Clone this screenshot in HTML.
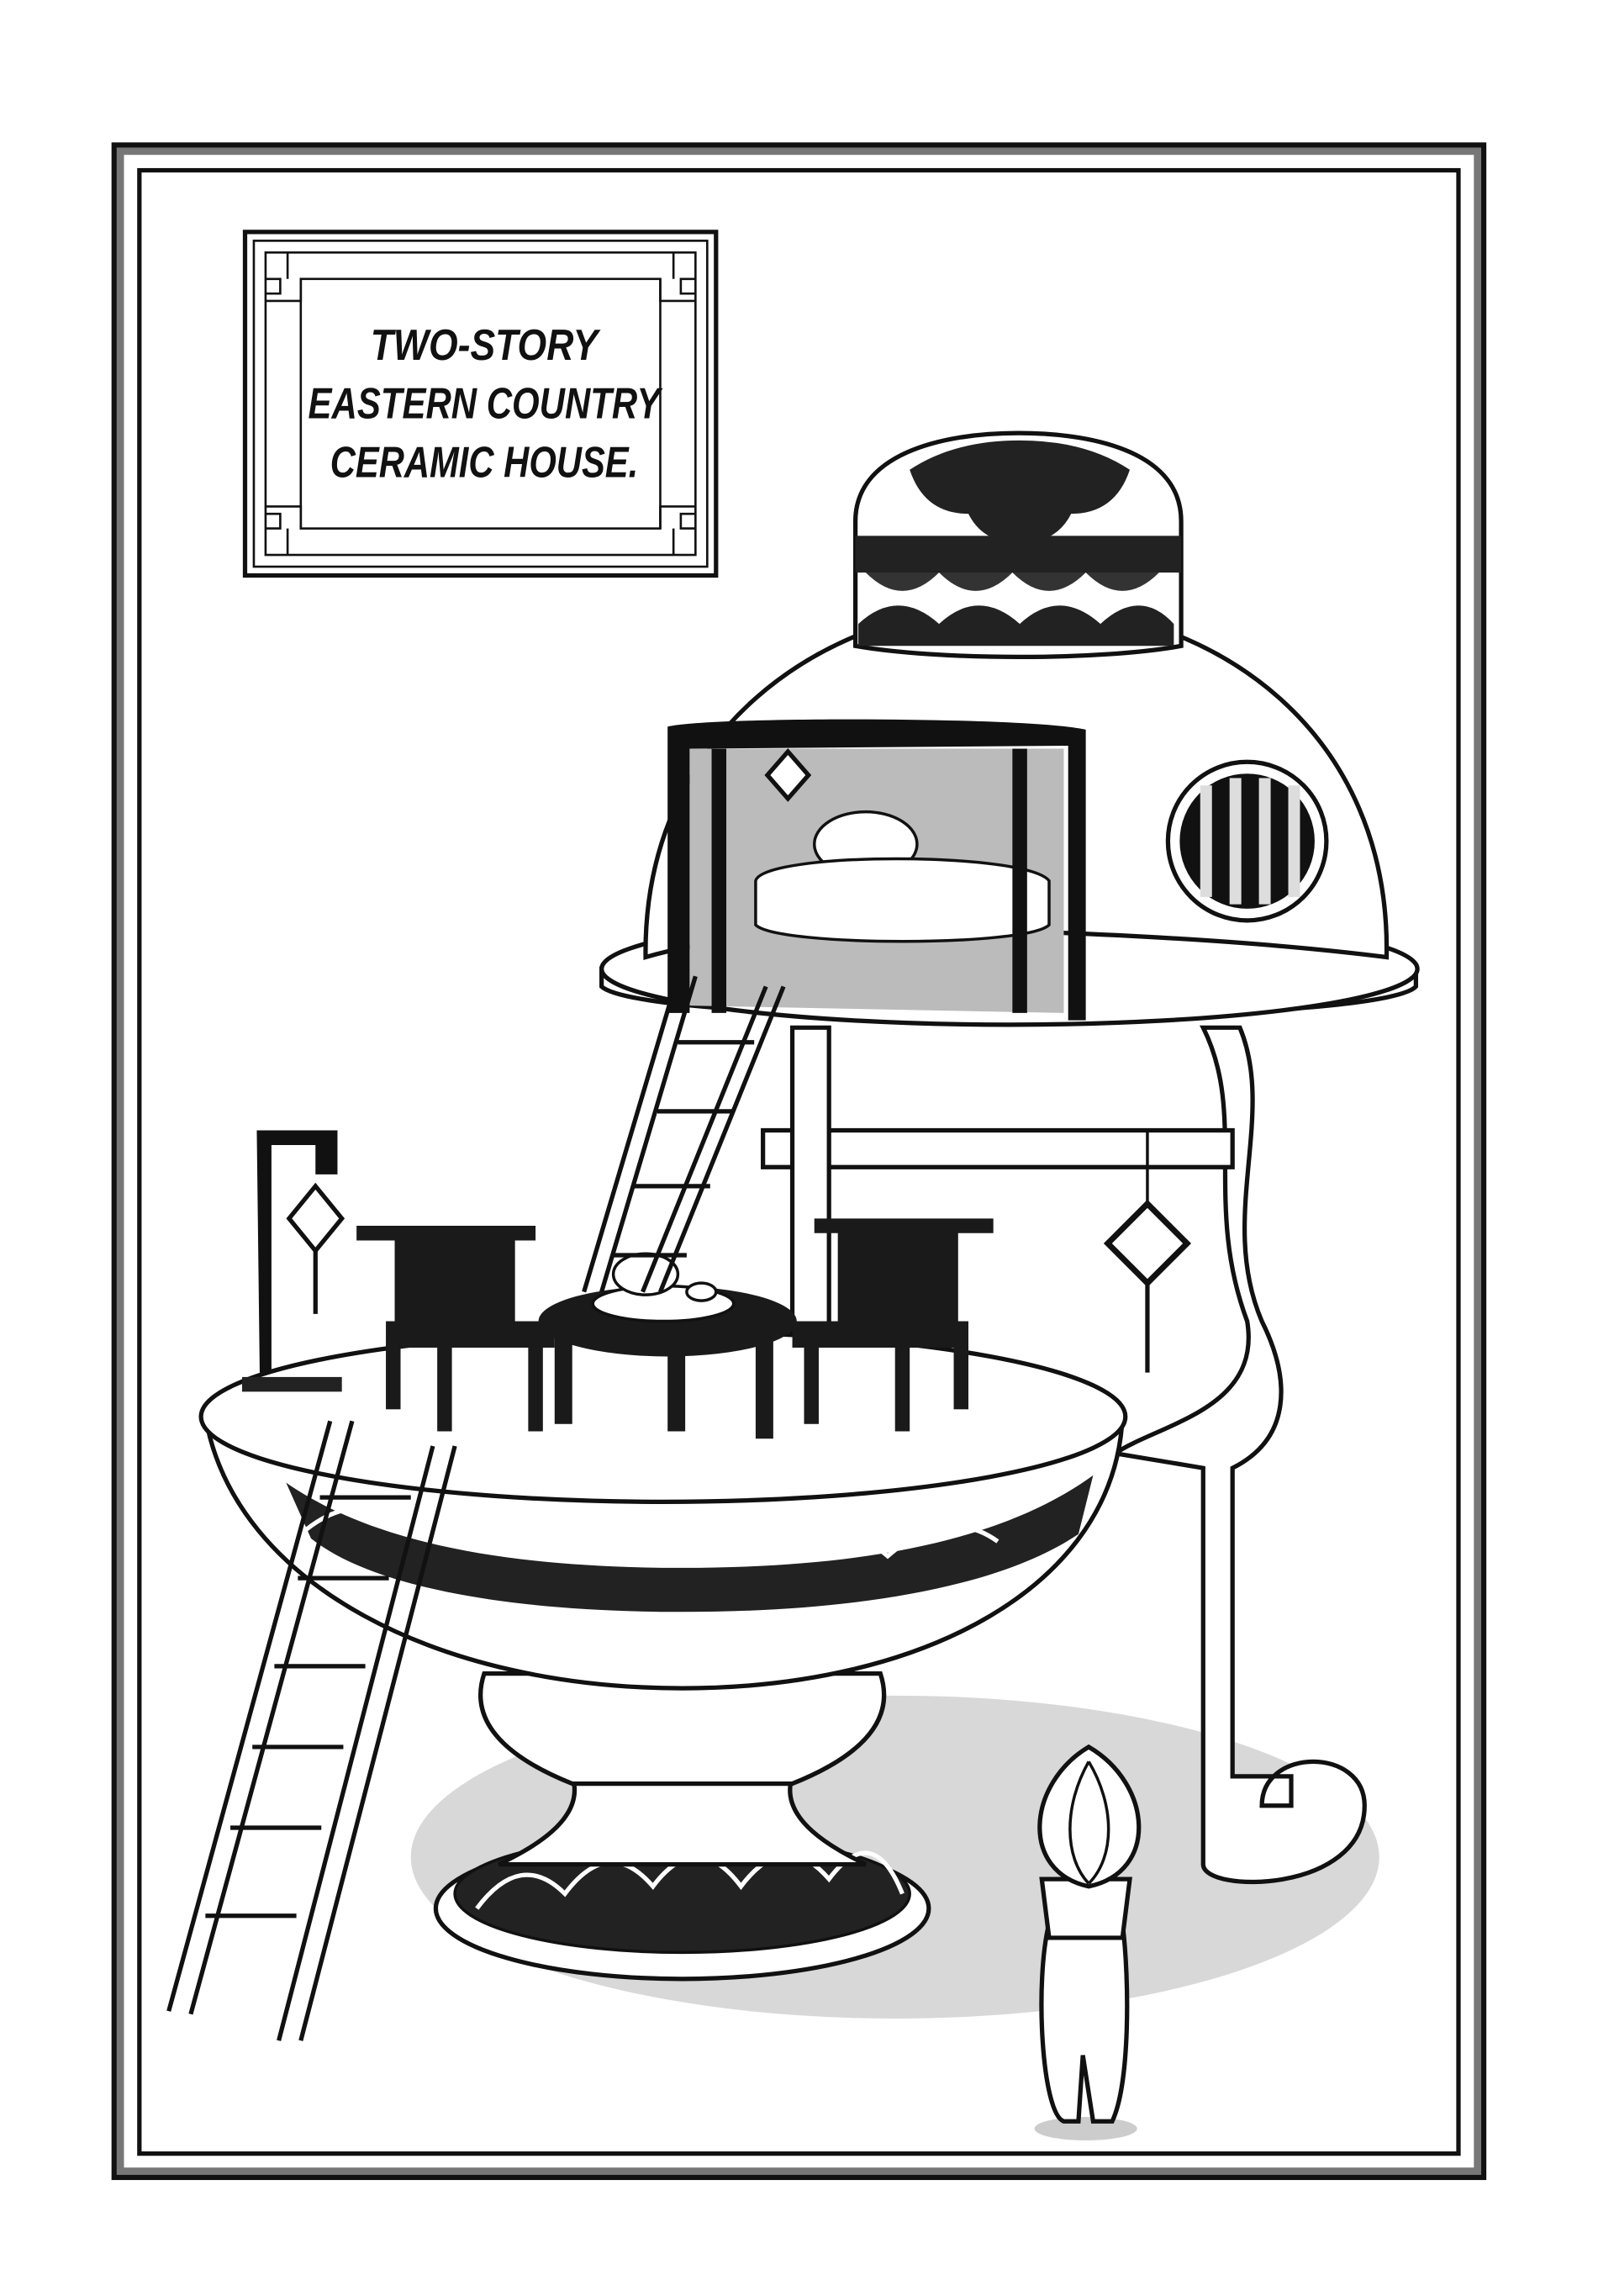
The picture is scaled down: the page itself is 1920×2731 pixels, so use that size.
<!DOCTYPE html>
<html><head><meta charset="utf-8"><style>
html,body{margin:0;padding:0;background:#fff}
svg{display:block}
text{font-family:"Liberation Sans",sans-serif;font-style:italic;font-weight:bold}
</style></head><body>
<svg width="1920" height="2731" viewBox="0 0 1100 1564" preserveAspectRatio="none" xmlns="http://www.w3.org/2000/svg">
<rect width="1100" height="1564" fill="#fff"/>
<!-- frame -->
<rect x="78" y="99" width="933" height="1384" fill="none" stroke="#111" stroke-width="4"/>
<rect x="82" y="103" width="925" height="1376" fill="none" stroke="#777" stroke-width="5"/>
<rect x="95" y="116" width="899" height="1351" fill="none" stroke="#111" stroke-width="3"/>
<!-- title box -->
<rect x="167" y="158" width="321" height="234" fill="#fff" stroke="#111" stroke-width="3"/>
<rect x="173" y="164" width="309" height="222" fill="none" stroke="#111" stroke-width="1.5"/>
<rect x="181" y="172" width="293" height="206" fill="none" stroke="#111" stroke-width="1.5"/>
<rect x="205" y="190" width="245" height="170" fill="none" stroke="#111" stroke-width="1.5"/>
<g fill="none" stroke="#111" stroke-width="1.5">
<path d="M181,205 h24 v-15 M196,172 v18 M181,190 h10 v10 h-10"/>
<path d="M474,205 h-24 v-15 M459,172 v18 M474,190 h-10 v10 h10"/>
<path d="M181,345 h24 v15 M196,378 v-18 M181,360 h10 v-10 h-10"/>
<path d="M474,345 h-24 v15 M459,378 v-18 M474,360 h-10 v-10 h10"/>
</g>
<g font-size="30" text-anchor="middle" fill="#111">
<text x="330" y="245" textLength="155" lengthAdjust="spacingAndGlyphs">TWO-STORY</text>
<text x="330" y="285" textLength="240" lengthAdjust="spacingAndGlyphs">EASTERN COUNTRY</text>
<text x="330" y="325" textLength="210" lengthAdjust="spacingAndGlyphs">CERAMIC HOUSE.</text>
</g>
<!-- ground shadow -->
<ellipse cx="610" cy="1265" rx="330" ry="110" fill="#d8d8d8"/>
<!-- right rope pillar -->
<path d="M820,700 C850,760 820,820 850,900 C860,960 790,970 760,990 L820,1000 L820,1270 C820,1290 930,1290 930,1230 C930,1190 860,1190 860,1230 L880,1230 L880,1210 L840,1210 L840,1000 C880,980 880,940 860,900 C830,830 870,760 845,700 Z" fill="#fff" stroke="#111" stroke-width="3"/>
<path d="M520,770 L840,770 L840,795 L520,795 Z" fill="#fff" stroke="#111" stroke-width="3"/>
<path d="M540,700 L565,700 L565,960 L540,960 Z" fill="#fff" stroke="#111" stroke-width="3"/>
<!-- base -->
<ellipse cx="465" cy="1300" rx="168" ry="48" fill="#fff" stroke="#111" stroke-width="3"/>
<ellipse cx="465" cy="1290" rx="155" ry="40" fill="#222" stroke="#111" stroke-width="2"/>
<path d="M325,1300 q30,-40 60,-10 q30,-40 60,-5 q30,-40 60,0 q30,-40 60,-5 q30,-40 50,10" fill="none" stroke="#fff" stroke-width="3"/>
<path d="M390,1210 C400,1240 360,1260 340,1270 L590,1270 C570,1260 530,1240 540,1210 Z" fill="#fff" stroke="#111" stroke-width="3"/>
<path d="M330,1140 L600,1140 C610,1170 590,1195 540,1215 L390,1215 C340,1195 320,1170 330,1140 Z" fill="#fff" stroke="#111" stroke-width="3"/>
<!-- bowl -->
<path d="M140,965 C160,1080 300,1150 465,1150 C630,1150 760,1080 765,965 Z" fill="#fff" stroke="#111" stroke-width="3"/>
<path d="M195,1010 C260,1055 360,1068 465,1068 C580,1068 680,1052 745,1005 L735,1045 C680,1082 580,1098 465,1098 C350,1098 255,1082 212,1048 Z" fill="#222"/>
<path d="M205,1045 q40,-35 80,0 q40,-35 80,5 q40,-35 80,5 q40,-35 80,5 q40,-35 80,0 q40,-35 75,-10" fill="none" stroke="#fff" stroke-width="3"/>
<ellipse cx="452" cy="965" rx="315" ry="58" fill="#fff" stroke="#111" stroke-width="3"/>
<!-- lamp post -->
<path d="M175,770 h55 v30 h-15 v-20 h-30 v155 h-8 z" fill="#111"/>
<rect x="165" y="938" width="68" height="10" fill="#222"/>
<path d="M215,808 l18,22 l-18,22 l-18,-22 z" fill="#fff" stroke="#111" stroke-width="3"/>
<line x1="215" y1="852" x2="215" y2="895" stroke="#111" stroke-width="3"/>
<!-- chairs -->
<g fill="#1a1a1a">
<path d="M243,835 h122 v10 h-14 v70 h-82 v-70 h-26 z"/>
<rect x="263" y="900" width="115" height="18"/>
<rect x="263" y="915" width="10" height="45"/><rect x="298" y="915" width="10" height="60"/><rect x="360" y="915" width="10" height="60"/>
<path d="M555,830 h122 v10 h-24 v70 h-82 v-70 h-16 z"/>
<rect x="540" y="900" width="120" height="18"/>
<rect x="650" y="915" width="10" height="45"/><rect x="610" y="915" width="10" height="60"/><rect x="548" y="915" width="10" height="55"/>
<ellipse cx="455" cy="900" rx="88" ry="24"/>
<rect x="378" y="900" width="12" height="70"/><rect x="515" y="900" width="12" height="80"/><rect x="455" y="915" width="12" height="60"/>
</g>
<ellipse cx="452" cy="888" rx="48" ry="12" fill="#fff" stroke="#111" stroke-width="2"/>
<ellipse cx="440" cy="868" rx="22" ry="14" fill="#fff" stroke="#111" stroke-width="2"/>
<ellipse cx="478" cy="880" rx="10" ry="6" fill="#fff" stroke="#111" stroke-width="2"/>
<!-- lantern right -->
<line x1="782" y1="770" x2="782" y2="825" stroke="#111" stroke-width="2"/>
<path d="M782,820 l27,27 l-27,27 l-27,-27 z" fill="#fff" stroke="#111" stroke-width="4"/>
<line x1="782" y1="874" x2="782" y2="935" stroke="#111" stroke-width="3"/>
<!-- upper platform -->
<path d="M410,660 L410,672 C440,700 940,700 965,672 L965,660 Z" fill="#fff" stroke="#111" stroke-width="3"/>
<ellipse cx="688" cy="660" rx="278" ry="38" fill="#fff" stroke="#111" stroke-width="3"/>
<!-- dome -->
<path d="M440,652 C438,500 560,412 692,412 C830,412 948,500 945,652 C850,640 700,632 600,634 C520,636 470,643 440,652 Z" fill="#fff" stroke="#111" stroke-width="3"/>
<path d="M470,510 L725,510 L725,690 L470,685 Z" fill="#bbb"/>
<ellipse cx="590" cy="575" rx="35" ry="22" fill="#fff" stroke="#111" stroke-width="2"/>
<path d="M515,600 C520,580 700,580 715,600 L715,630 C700,645 530,645 515,630 Z" fill="#fff" stroke="#111" stroke-width="2"/>
<path d="M455,495 C480,488 700,488 740,497 L740,695 L728,695 L728,508 L470,510 L470,690 L455,690 Z" fill="#111"/>
<rect x="485" y="510" width="10" height="180" fill="#111"/><rect x="690" y="510" width="10" height="180" fill="#111"/>
<path d="M537,512 l14,16 l-14,16 l-14,-16 z" fill="#fff" stroke="#111" stroke-width="3"/>
<circle cx="850" cy="573" r="54" fill="#fff" stroke="#111" stroke-width="3"/>
<circle cx="850" cy="573" r="46" fill="#111"/>
<g fill="#ddd"><rect x="818" y="535" width="8" height="76"/><rect x="838" y="530" width="8" height="86"/><rect x="858" y="530" width="8" height="86"/><rect x="878" y="535" width="8" height="76"/></g>
<!-- dome cap -->
<path d="M583,440 L583,355 C583,310 640,295 694,295 C750,295 805,310 805,355 L805,440 C750,450 640,450 583,440 Z" fill="#fff" stroke="#111" stroke-width="3"/>
<rect x="583" y="365" width="222" height="25" fill="#222"/>
<path d="M590,390 q25,25 50,0 q25,25 50,0 q25,25 50,0 q25,25 50,0" fill="#333"/>
<path d="M585,425 q27,-25 55,0 q27,-25 55,0 q27,-25 55,0 q27,-25 50,0 v15 h-215 z" fill="#222"/>
<path d="M620,320 q30,-20 75,-20 q45,0 75,20 q-10,30 -40,30 q-10,20 -35,20 q-25,0 -35,-20 q-30,0 -40,-30 z" fill="#222"/>
<!-- ladders -->
<g stroke="#111" stroke-width="3" fill="none">
<path d="M398,880 L462,665 M410,880 L474,665 M438,880 L522,672 M450,880 L534,672"/>
<path d="M432,808 h52 M448,757 h52 M462,710 h52 M418,855 h50"/>
<path d="M115,1370 L225,968 M130,1372 L240,968 M190,1390 L295,985 M205,1390 L310,985"/>
<path d="M140,1305 h62 M157,1245 h62 M172,1190 h62 M187,1135 h62 M203,1075 h62 M218,1020 h62"/>
</g>
<!-- character -->
<ellipse cx="740" cy="1450" rx="35" ry="8" fill="#ccc"/>
<path d="M715,1310 C705,1350 710,1440 725,1445 L735,1445 L738,1400 L745,1445 L758,1445 C770,1420 770,1350 765,1310 Z" fill="#fff" stroke="#111" stroke-width="3"/>
<path d="M710,1280 L770,1280 L765,1320 L715,1320 Z" fill="#fff" stroke="#111" stroke-width="3"/>
<path d="M742,1190 C700,1215 695,1275 742,1285 C790,1275 785,1215 742,1190 Z" fill="#fff" stroke="#111" stroke-width="3"/>
<path d="M742,1200 C725,1230 725,1265 742,1283 M742,1200 C760,1230 760,1265 742,1283" fill="none" stroke="#111" stroke-width="2"/>
</svg>
</body></html>
